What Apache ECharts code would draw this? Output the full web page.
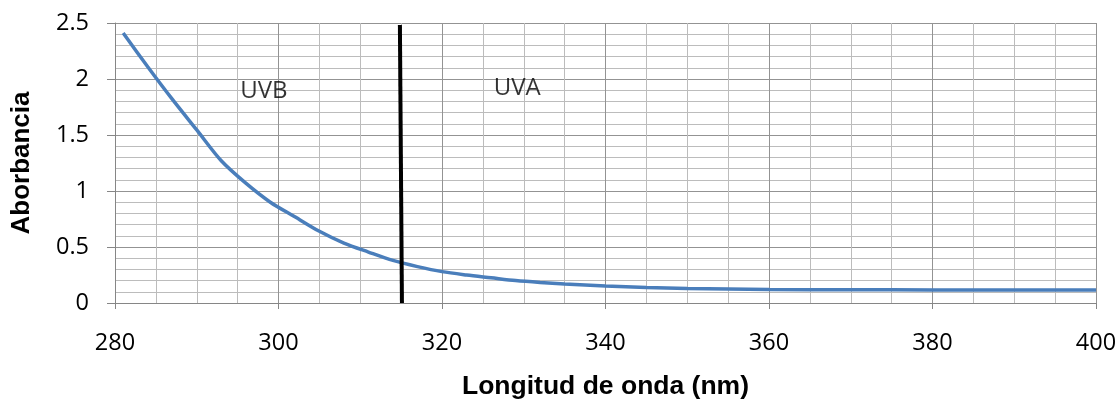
<!DOCTYPE html>
<html>
<head>
<meta charset="utf-8">
<script src="https://cdn.jsdelivr.net/npm/echarts@6/dist/echarts.min.js"></script>
<style>
html,body{margin:0;padding:0;background:#fff;}
#chart{width:1118px;height:412px;}
</style>
</head>
<body>
<div id="chart"></div>
<script>
// Data
const wavelengths = [281, 284, 287, 290, 293, 296, 299, 302, 305, 308, 311, 314, 317, 320, 323, 326, 329, 332, 335, 340, 345, 350, 355, 360, 370, 380, 390, 400];
const absorbance  = [2.41, 2.11, 1.82, 1.545, 1.27, 1.07, 0.90, 0.77, 0.64, 0.535, 0.455, 0.38, 0.325, 0.28, 0.25, 0.225, 0.20, 0.183, 0.17, 0.152, 0.139, 0.13, 0.125, 0.121, 0.118, 0.117, 0.116, 0.115];
const xTicks = [280, 300, 320, 340, 360, 380, 400];
const yTicks = [0, 0.5, 1, 1.5, 2, 2.5];
const dividerX = [314.85, 315.1];
const dividerY = [2.483, 0];
const regionNames = ['UVB', 'UVA'];
const regionX = [298.2, 329.2];
const regionY = [1.89, 1.92];

const tickFont = "'Open Sans', 'Noto Sans', sans-serif";
const titleFont = "'Liberation Sans', Arial, sans-serif";
const chart = echarts.init(document.getElementById('chart'));
chart.setOption({
  animation: false,
  grid: {left: 115, right: 22, top: 23, bottom: 109, containLabel: false, outerBoundsMode: 'none'},
  xAxis: {
    type: 'value', min: xTicks[0], max: xTicks[xTicks.length - 1], interval: 20,
    name: 'Longitud de onda (nm)', nameLocation: 'middle', nameGap: 70,
    nameTextStyle: {fontFamily: titleFont, fontWeight: 'bold', fontSize: 26.5, color: '#000'},
    axisLine: {show: true, onZero: false, lineStyle: {color: '#868686', width: 1}},
    axisTick: {show: true, length: 6, lineStyle: {color: '#868686'}},
    axisLabel: {margin: 28, fontFamily: tickFont, fontSize: 23.5, color: '#000'},
    splitLine: {show: true, lineStyle: {color: '#939393', width: 1}},
    minorTick: {show: false, splitNumber: 4},
    minorSplitLine: {show: true, lineStyle: {color: '#bcbcbc', width: 1}}
  },
  yAxis: {
    type: 'value', min: yTicks[0], max: yTicks[yTicks.length - 1], interval: 0.5,
    name: 'Aborbancia', nameLocation: 'middle', nameGap: 80, nameRotate: 90,
    nameTextStyle: {fontFamily: titleFont, fontWeight: 'bold', fontSize: 26, color: '#000'},
    axisLine: {show: true, lineStyle: {color: '#868686', width: 1}},
    axisTick: {show: true, length: 8, lineStyle: {color: '#868686'}},
    axisLabel: {margin: 26, fontFamily: tickFont, fontSize: 23.5, color: '#000'},
    splitLine: {show: true, lineStyle: {color: '#939393', width: 1}},
    minorTick: {show: false, splitNumber: 5},
    minorSplitLine: {show: true, lineStyle: {color: '#bcbcbc', width: 1}}
  },
  series: [
    {
      type: 'line', data: wavelengths.map((x, i) => [x, absorbance[i]]),
      showSymbol: false, smooth: 0.3, lineStyle: {color: '#4A7EBB', width: 3.5}, z: 3
    },
    {
      type: 'line', data: dividerX.map((x, i) => [x, dividerY[i]]),
      showSymbol: false, lineStyle: {color: '#000', width: 4}, z: 4
    },
    {
      type: 'scatter', symbolSize: 0,
      data: regionNames.map((n, i) => ({value: [regionX[i], regionY[i]], name: n})),
      label: {show: true, position: 'inside', formatter: '{b}', fontFamily: tickFont, fontSize: 24, color: '#000'},
      z: 5
    }
  ]
});
</script>
</body>
</html>
